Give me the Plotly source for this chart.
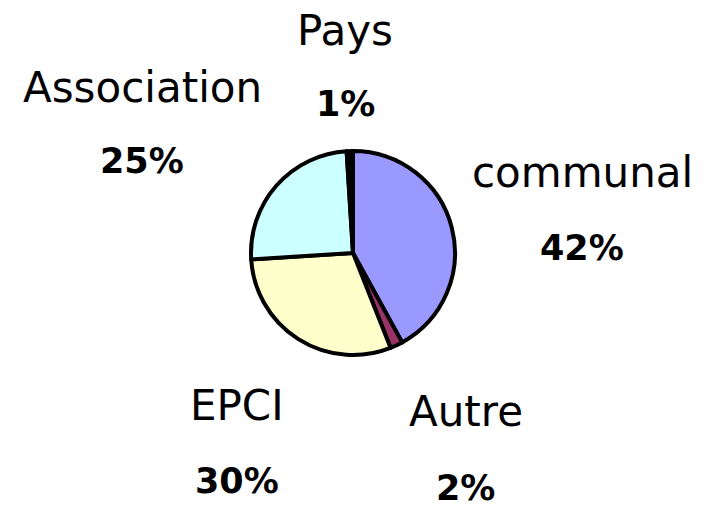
import plotly.graph_objects as go

labels = ["communal", "Autre", "EPCI", "Association", "Pays"]
values = [42, 2, 30, 25, 1]
colors = ["#9999FF", "#993366", "#FFFFCC", "#CCFFFF", "#000000"]

# label anchor positions in pixels (center x, label y, percent y)
label_pos = {
    "communal": (582, 173, 248),
    "Autre": (466, 411, 488),
    "EPCI": (237, 405, 481),
    "Association": (142, 87, 161),
    "Pays": (345, 31, 104),
}

W, H = 705, 507
cx, cy, r = 353, 253, 102

fig = go.Figure(go.Pie(
    labels=labels, values=values, sort=False, direction="clockwise", rotation=0,
    marker=dict(colors=colors, line=dict(color="black", width=4)),
    textinfo="none", hoverinfo="label+percent", showlegend=False,
    domain=dict(x=[(cx - r) / W, (cx + r) / W], y=[(H - cy - r) / H, (H - cy + r) / H]),
))

total = sum(values)
font = "DejaVu Sans"
ann = []
for lab, v in zip(labels, values):
    px, ly, py = label_pos[lab]
    ann.append(dict(x=px / W, y=1 - ly / H, xref="paper", yref="paper", text=lab,
                    showarrow=False, xanchor="center", yanchor="middle",
                    font=dict(family=font, size=42, color="black")))
    ann.append(dict(x=px / W, y=1 - py / H, xref="paper", yref="paper",
                    text=f"<b>{round(v / total * 100)}%</b>",
                    showarrow=False, xanchor="center", yanchor="middle",
                    font=dict(family=font, size=35, color="black")))

fig.update_layout(width=W, height=H, margin=dict(l=0, r=0, t=0, b=0),
                  paper_bgcolor="white", plot_bgcolor="white", annotations=ann)
fig.write_html("out.html")
